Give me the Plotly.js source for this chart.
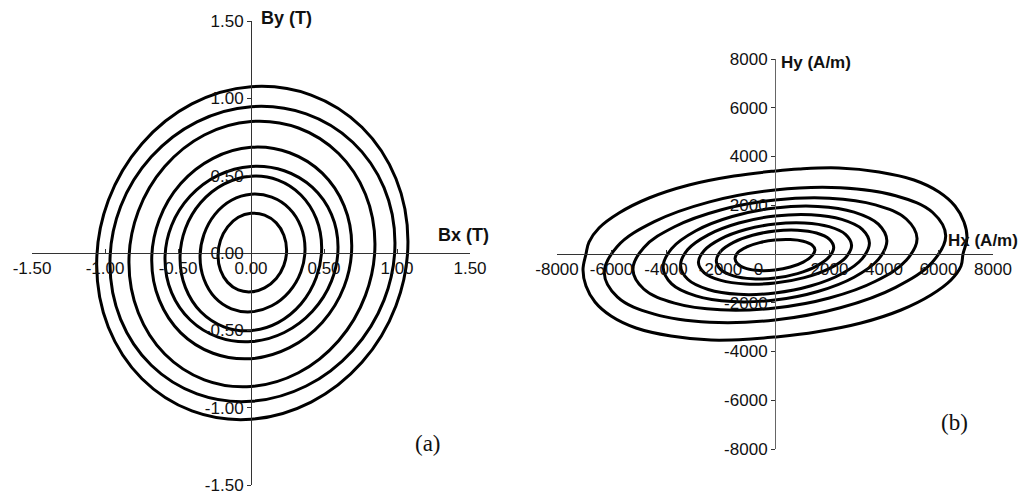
<!DOCTYPE html>
<html>
<head>
<meta charset="utf-8">
<script src="https://cdn.plot.ly/plotly-3.0.1.min.js"></script>
<style>html,body{margin:0;padding:0;background:#fff;}#chart{width:1022px;height:496px;}</style>
</head>
<body>
<div id="chart"></div>
<script>
// ---- (a) B loci, Bx / By in T (points read around each loop) ----
const b1x = [0.244, 0.225, 0.173, 0.093, 0, -0.087, -0.16, -0.209, -0.226, -0.209, -0.16, -0.087, 0, 0.093, 0.173, 0.225];
const b1y = [0.018, 0.115, 0.195, 0.245, 0.257, 0.231, 0.169, 0.082, -0.018, -0.112, -0.19, -0.239, -0.251, -0.226, -0.165, -0.08];
const b2x = [0.37, 0.342, 0.262, 0.142, 0, -0.134, -0.247, -0.322, -0.349, -0.322, -0.247, -0.134, 0, 0.142, 0.262, 0.342];
const b2y = [0.027, 0.17, 0.288, 0.361, 0.38, 0.341, 0.25, 0.121, -0.027, -0.17, -0.288, -0.361, -0.38, -0.341, -0.25, -0.121];
const b3x = [0.484, 0.447, 0.342, 0.185, 0, -0.186, -0.344, -0.449, -0.486, -0.449, -0.344, -0.186, 0, 0.185, 0.342, 0.447];
const b3y = [0.035, 0.222, 0.375, 0.471, 0.496, 0.445, 0.326, 0.158, -0.035, -0.224, -0.38, -0.477, -0.502, -0.45, -0.33, -0.159];
const b4x = [0.596, 0.551, 0.421, 0.228, 0, -0.226, -0.416, -0.544, -0.589, -0.544, -0.416, -0.226, 0, 0.228, 0.421, 0.551];
const b4y = [0.039, 0.25, 0.424, 0.532, 0.56, 0.502, 0.368, 0.178, -0.04, -0.256, -0.433, -0.544, -0.573, -0.514, -0.377, -0.182];
const b5x = [0.69, 0.638, 0.488, 0.264, 0, -0.26, -0.481, -0.628, -0.68, -0.628, -0.481, -0.26, 0, 0.264, 0.488, 0.638];
const b5y = [0.048, 0.305, 0.516, 0.648, 0.683, 0.612, 0.449, 0.217, -0.048, -0.305, -0.516, -0.648, -0.683, -0.612, -0.449, -0.217];
const b6x = [0.849, 0.784, 0.6, 0.325, 0, -0.32, -0.591, -0.772, -0.836, -0.772, -0.591, -0.32, 0, 0.325, 0.6, 0.784];
const b6y = [0.06, 0.38, 0.643, 0.808, 0.85, 0.763, 0.559, 0.27, -0.061, -0.386, -0.653, -0.82, -0.863, -0.774, -0.567, -0.274];
const b7x = [0.986, 0.911, 0.697, 0.378, 0, -0.37, -0.683, -0.893, -0.966, -0.893, -0.683, -0.37, 0, 0.378, 0.697, 0.911];
const b7y = [0.066, 0.423, 0.716, 0.899, 0.946, 0.848, 0.622, 0.301, -0.067, -0.429, -0.726, -0.911, -0.959, -0.86, -0.63, -0.305];
const b8x = [1.075, 0.993, 0.76, 0.412, 0, -0.405, -0.747, -0.977, -1.057, -0.977, -0.747, -0.405, 0, 0.412, 0.76, 0.993];
const b8y = [0.075, 0.48, 0.813, 1.021, 1.075, 0.964, 0.707, 0.341, -0.075, -0.48, -0.813, -1.021, -1.075, -0.964, -0.707, -0.341];

// ---- (b) H loci, Hx / Hy in A/m ----
const h1x = [1467, 1355, 1037, 562, 0, -562, -1037, -1355, -1467, -1355, -1037, -562, 0, 562, 1037, 1355];
const h1y = [165, 372, 522, 593, 574, 467, 290, 67, -189, -426, -598, -679, -656, -535, -331, -77];
const h2x = [2154, 1990, 1523, 825, 0, -825, -1523, -1990, -2154, -1990, -1523, -825, 0, 825, 1523, 1990];
const h2y = [271, 612, 859, 976, 944, 769, 476, 111, -283, -639, -897, -1019, -985, -803, -497, -116];
const h3x = [2810, 2596, 1987, 1076, 0, -1076, -1987, -2596, -2810, -2596, -1987, -1076, 0, 1076, 1987, 2596];
const h3y = [354, 798, 1121, 1273, 1231, 1003, 621, 145, -342, -771, -1083, -1231, -1190, -969, -600, -140];
const h4x = [3465, 3202, 2450, 1327, 0, -1327, -2450, -3202, -3465, -3202, -2450, -1327, 0, 1327, 2450, 3202];
const h4y = [448, 1011, 1419, 1612, 1559, 1270, 787, 183, -460, -1037, -1457, -1655, -1600, -1304, -808, -188];
const h5x = [4105, 3793, 2902, 1572, 0, -1572, -2902, -3793, -4105, -3793, -2902, -1572, 0, 1572, 2902, 3793];
const h5y = [542, 1224, 1719, 1952, 1887, 1538, 953, 222, -542, -1224, -1719, -1952, -1887, -1538, -953, -222];
const h6x = [5213, 4817, 3686, 1997, 0, -1997, -3686, -4817, -5213, -4817, -3686, -1997, 0, 1997, 3686, 4817];
const h6y = [636, 1436, 2017, 2291, 2215, 1805, 1118, 260, -636, -1436, -2017, -2291, -2215, -1805, -1118, -260];
const h7x = [6264, 5788, 4429, 2399, 0, -2399, -4429, -5788, -6264, -5788, -4429, -2399, 0, 2399, 4429, 5788];
const h7y = [754, 1703, 2391, 2717, 2626, 2140, 1326, 309, -778, -1756, -2466, -2801, -2708, -2206, -1367, -318];
const h8x = [6899, 7046, 6936, 6606, 6018, 5101, 3817, 2349, 881, 0, -1505, -3156, -4624, -5725, -6459, -6826,
             -6936, -7046, -6936, -6606, -6018, -5101, -3817, -2349, -881, 0, 1505, 3156, 4624, 5725, 6459, 6826];
const h8y = [0, 656, 1313, 1969, 2544, 3036, 3364, 3528, 3487, 3405, 3200, 2831, 2297, 1682, 1067, 492,
             0, -656, -1313, -1969, -2544, -3036, -3364, -3528, -3487, -3405, -3200, -2831, -2297, -1682, -1067, -492];

// ---- tick labels ----
const bTicks = [-1.5, -1.0, -0.5, 0, 0.5, 1.0, 1.5];
const bTickText = ["-1.50", "-1.00", "-0.50", "0.00", "0.50", "1.00", "1.50"];
const hxTicks = [-8000, -6000, -4000, -2000, 0, 2000, 4000, 6000, 8000];
const hxTickText = ["-8000", "-6000", "-4000", "-2000", "0\u00a0\u00a0\u00a0\u00a0\u00a0\u00a0\u00a0", "2000", "4000", "6000", "8000"];
const hyTicks = [-8000, -6000, -4000, -2000, 2000, 4000, 6000, 8000];
const hyTickText = ["-8000", "-6000", "-4000", "-2000", "2000", "4000", "6000", "8000"];

const bLoops = [[b1x,b1y],[b2x,b2y],[b3x,b3y],[b4x,b4y],[b5x,b5y],[b6x,b6y],[b7x,b7y],[b8x,b8y]];
const hLoops = [[h1x,h1y],[h2x,h2y],[h3x,h3y],[h4x,h4y],[h5x,h5y],[h6x,h6y],[h7x,h7y],[h8x,h8y]];

function loopTrace(px, py, xa, ya) {
  return {
    x: px.concat([px[0]]), y: py.concat([py[0]]),
    xaxis: xa, yaxis: ya, type: 'scatter', mode: 'lines',
    line: {color: '#000', width: 3, shape: 'spline', smoothing: 1.1},
    hoverinfo: 'skip'
  };
}
const traces = [];
bLoops.forEach(l => traces.push(loopTrace(l[0], l[1], 'x', 'y')));
hLoops.forEach(l => traces.push(loopTrace(l[0], l[1], 'x2', 'y2')));

const W = 1022, H = 496;
const tickFont = {family: 'Liberation Sans, Arial, sans-serif', size: 17, color: '#111'};
const axBase = {showgrid: false, zeroline: false, showline: true, linecolor: '#333', linewidth: 1,
  tickcolor: '#333', ticklen: 4, tickwidth: 1, tickfont: tickFont, tickmode: 'array', fixedrange: true};

const bxDom = [32 / W, 470 / W], byDom = [1 - 485 / H, 1 - 21 / H];
const hxDom = [557 / W, 993 / W], hyDom = [1 - 449 / H, 1 - 59 / H];

const layout = {
  width: W, height: H, margin: {l: 0, r: 0, t: 0, b: 0},
  paper_bgcolor: '#fff', plot_bgcolor: 'rgba(0,0,0,0)', showlegend: false,
  xaxis: Object.assign({}, axBase, {domain: bxDom, range: [-1.5, 1.5], anchor: 'free',
    position: (byDom[0] + byDom[1]) / 2, side: 'bottom', ticks: 'inside', tickvals: bTicks, ticktext: bTickText}),
  yaxis: Object.assign({}, axBase, {domain: byDom, range: [-1.5, 1.5], anchor: 'free',
    position: (bxDom[0] + bxDom[1]) / 2, side: 'left', ticks: 'outside', tickvals: bTicks, ticktext: bTickText}),
  xaxis2: Object.assign({}, axBase, {domain: hxDom, range: [-8000, 8000], anchor: 'free',
    position: (hyDom[0] + hyDom[1]) / 2, side: 'bottom', ticks: 'inside', tickvals: hxTicks, ticktext: hxTickText}),
  yaxis2: Object.assign({}, axBase, {domain: hyDom, range: [-8000, 8000], anchor: 'free',
    position: (hxDom[0] + hxDom[1]) / 2, side: 'left', ticks: 'outside', tickvals: hyTicks, ticktext: hyTickText, linecolor: '#666'}),
  annotations: [
    {text: '<b>By (T)</b>', xref: 'paper', yref: 'paper', x: 259 / W, y: 1 - 18 / H, xanchor: 'left', yanchor: 'middle', showarrow: false,
      font: {family: 'Liberation Sans, Arial, sans-serif', size: 18, color: '#111'}},
    {text: '<b>Bx (T)</b>', xref: 'paper', yref: 'paper', x: 436 / W, y: 1 - 235 / H, xanchor: 'left', yanchor: 'middle', showarrow: false,
      font: {family: 'Liberation Sans, Arial, sans-serif', size: 18, color: '#111'}},
    {text: '<b>Hy (A/m)</b>', xref: 'paper', yref: 'paper', x: 779 / W, y: 1 - 62 / H, xanchor: 'left', yanchor: 'middle', showarrow: false,
      font: {family: 'Liberation Sans, Arial, sans-serif', size: 17, color: '#111'}},
    {text: '<b>Hx (A/m)</b>', xref: 'paper', yref: 'paper', x: 946 / W, y: 1 - 240 / H, xanchor: 'left', yanchor: 'middle', showarrow: false,
      font: {family: 'Liberation Sans, Arial, sans-serif', size: 17, color: '#111'}},
    {text: '(a)', xref: 'paper', yref: 'paper', x: 428 / W, y: 1 - 443 / H, xanchor: 'center', yanchor: 'middle', showarrow: false,
      font: {family: 'Liberation Serif, Times New Roman, serif', size: 23, color: '#111'}},
    {text: '(b)', xref: 'paper', yref: 'paper', x: 954 / W, y: 1 - 422 / H, xanchor: 'center', yanchor: 'middle', showarrow: false,
      font: {family: 'Liberation Serif, Times New Roman, serif', size: 23, color: '#111'}}
  ]
};

Plotly.newPlot('chart', traces, layout, {staticPlot: true, displayModeBar: false});
</script>
</body>
</html>
